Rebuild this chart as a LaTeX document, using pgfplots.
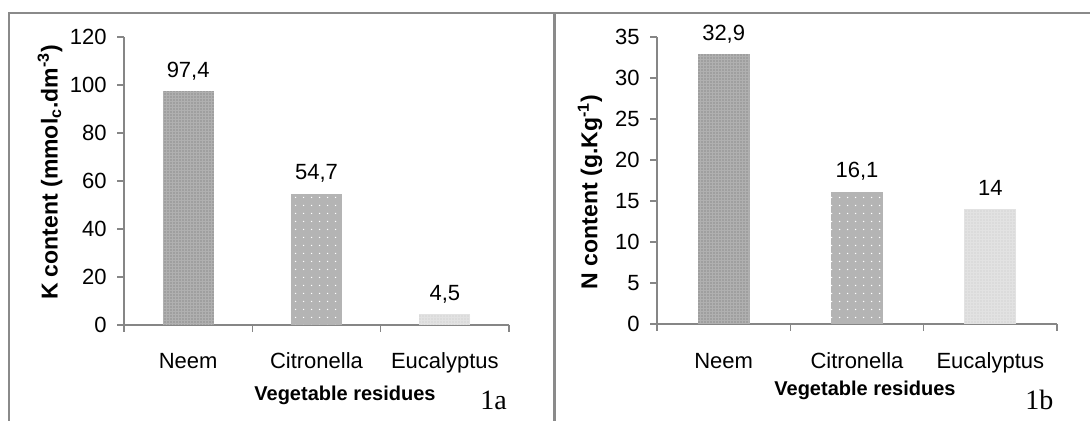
\documentclass[border=0pt]{standalone}
\usepackage{fontspec}
\setmainfont{Liberation Sans}
\newfontfamily\timesfont{Liberation Serif}
\usepackage{pgfplots}
\pgfplotsset{compat=1.18}
\usetikzlibrary{patterns.meta}
\definecolor{axisgray}{HTML}{868686}
\definecolor{frame}{HTML}{8A8A8A}
\definecolor{neem}{HTML}{B0B0B0}
\definecolor{neemdot}{HTML}{6A6A6A}
\definecolor{citro}{HTML}{B4B4B4}
\definecolor{euca}{HTML}{E2E2E2}
\definecolor{eucadot}{HTML}{C4C4C4}
\pgfplotsset{
  panel/.style={
    scale only axis,
    axis x line*=bottom, axis y line*=left,
    axis line style={draw=axisgray, line width=0.6pt},
    every tick/.style={draw=axisgray, line width=0.6pt},
    tick align=outside, major tick length=3.5pt,
    xmin=-0.5, xmax=2.5, ymin=0,
    xtick={-0.5,0.5,1.5,2.5},
    x tick label as interval,
    xticklabels={Neem,Citronella,Eucalyptus,},
    /pgf/number format/assume math mode=true,
    ticklabel style={font=\fontsize{11}{13}\selectfont, text=black},
    yticklabel style={anchor=east, inner sep=0pt, xshift=-5pt},
    xticklabel style={anchor=base, inner sep=0pt},
    nodes near coords,
    point meta=explicit symbolic,
    every node near coord/.append style={font=\fontsize{11}{13}\selectfont, anchor=base, inner sep=0pt, yshift=7pt, text=black},
    ybar, bar shift=0pt,
    clip=false,
  },
  neembar/.style={fill=neem, draw=none, postaction={pattern={Dots[distance=1.5pt, radius=0.32pt]}, pattern color=neemdot}},
  citrobar/.style={fill=citro, draw=none, postaction={pattern={Dots[distance=4pt, radius=0.4pt]}, pattern color=white}},
  eucabar/.style={fill=euca, draw=none, postaction={pattern={Dots[distance=1.5pt, radius=0.32pt]}, pattern color=eucadot}},
}
\begin{document}
\begin{tikzpicture}[x=1pt,y=1pt]
\useasboundingbox (0,0) rectangle (545,210.5);
\draw[frame, line width=1pt] (4,204) -- (545,204);
\draw[frame, line width=1pt] (4.25,204) -- (4.25,0);
\draw[frame, line width=1.5pt] (277,204) -- (277,0);

\begin{axis}[panel,
  at={(62pt,48pt)}, anchor=south west,
  width=192.5pt, height=144pt,
  ymax=120, ytick={0,20,40,60,80,100,120},
  bar width=25.5pt,
  xticklabel style={yshift=-18.5pt},
  xlabel={\bfseries Vegetable residues},
  xlabel style={at={(axis description cs:0.574,0)}, anchor=base, yshift=-38pt, inner sep=0pt, font=\fontsize{10}{12}\selectfont},
  ylabel={\bfseries K content (mmol\textsubscript{c}.dm\textsuperscript{-3})},
  ylabel style={at={(axis description cs:0,0.53)}, anchor=center, yshift=37pt, inner sep=0pt, font=\fontsize{11.5}{13}\selectfont},
]
\addplot[neembar] coordinates {(0,97.4) [97,4]};
\addplot[citrobar] coordinates {(1,54.7) [54,7]};
\addplot[eucabar] coordinates {(2,4.5) [4,5]};
\end{axis}
\node[anchor=base west, inner sep=0pt, font=\timesfont\fontsize{14}{16}\selectfont] at (240,5.5) {1a};

\begin{axis}[panel,
  at={(328.5pt,48.5pt)}, anchor=south west,
  width=200pt, height=143.5pt,
  ymax=35, ytick={0,5,10,15,20,25,30,35},
  bar width=26pt,
  xticklabel style={yshift=-19pt},
  xlabel={\bfseries Vegetable residues},
  xlabel style={at={(axis description cs:0.52,0)}, anchor=base, yshift=-36pt, inner sep=0pt, font=\fontsize{10}{12}\selectfont},
  ylabel={\bfseries N content (g.Kg\textsuperscript{-1})},
  ylabel style={at={(axis description cs:0,0.46)}, anchor=center, yshift=33.5pt, inner sep=0pt, font=\fontsize{11.5}{13}\selectfont},
]
\addplot[neembar] coordinates {(0,32.9) [32,9]};
\addplot[citrobar] coordinates {(1,16.1) [16,1]};
\addplot[eucabar] coordinates {(2,14) [14]};
\end{axis}
\node[anchor=base west, inner sep=0pt, font=\timesfont\fontsize{14}{16}\selectfont] at (512.5,5.5) {1b};
\end{tikzpicture}
\end{document}
